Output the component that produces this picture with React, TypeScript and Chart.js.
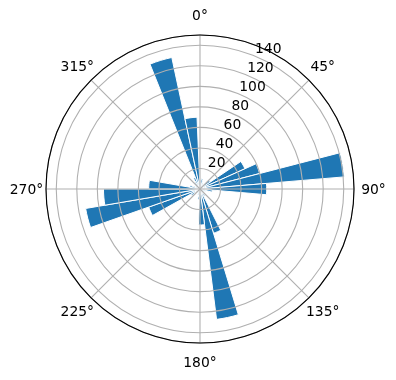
import React, { useEffect, useRef } from "react";
import { Chart, registerables } from "chart.js";

Chart.register(...registerables);

// Angular histogram: 37 equal bins, clockwise from north, first bin starting at -2.37°
const binStartDeg = -2.37;
const binCenters = [
  2.5, 12.2, 21.9, 31.7, 41.4, 51.1, 60.9, 70.6, 80.3, 90.1,
  99.8, 109.5, 119.3, 129.0, 138.7, 148.4, 158.2, 167.9, 177.6, 187.4,
  197.1, 206.8, 216.6, 226.3, 236.0, 245.8, 255.5, 265.2, 274.9, 284.7,
  294.4, 304.1, 313.9, 323.6, 333.3, 343.1, 352.8,
];
const counts = [
  8, 10, 6, 5, 4, 12, 48, 60, 141, 65,
  12, 6, 4, 3, 5, 8, 45, 128, 35, 10,
  6, 4, 3, 5, 10, 53, 113, 94, 50, 10,
  6, 4, 5, 8, 12, 131, 70,
];
const rTicks = [20, 40, 60, 80, 100, 120, 140];
const rMax = 150;
const angleTickDegs = [0, 45, 90, 135, 180, 225, 270, 315];
const angleTickLabels = ["0°", "45°", "90°", "135°", "180°", "225°", "270°", "315°"];

const FONT = '13.89px "DejaVu Sans"';

export default function App() {
  const ref = useRef<HTMLCanvasElement | null>(null);

  useEffect(() => {
    if (!ref.current) return;
    const decor = {
      id: "polarDecor",
      afterDatasetsDraw(chart: any) {
        const s = chart.scales.r;
        const ctx = chart.ctx;
        const R = s.drawingArea;
        ctx.save();
        ctx.strokeStyle = "#b0b0b0";
        ctx.lineWidth = 1.1;
        angleTickDegs.forEach((d) => {
          const a = (d * Math.PI) / 180;
          ctx.beginPath();
          ctx.moveTo(s.xCenter, s.yCenter);
          ctx.lineTo(s.xCenter + R * Math.sin(a), s.yCenter - R * Math.cos(a));
          ctx.stroke();
        });
        ctx.restore();
      },
      afterDraw(chart: any) {
        const s = chart.scales.r;
        const ctx = chart.ctx;
        const R = s.drawingArea;
        ctx.save();
        // outer spine
        ctx.strokeStyle = "#000";
        ctx.lineWidth = 1.1;
        ctx.beginPath();
        ctx.arc(s.xCenter, s.yCenter, R, 0, Math.PI * 2);
        ctx.stroke();
        ctx.fillStyle = "#000";
        ctx.font = FONT;
        // angle labels
        ctx.textAlign = "center";
        ctx.textBaseline = "middle";
        const labR = R + 19.5;
        angleTickDegs.forEach((d, i) => {
          const a = (d * Math.PI) / 180;
          ctx.fillText(
            angleTickLabels[i],
            s.xCenter + labR * Math.sin(a),
            s.yCenter - labR * Math.cos(a) + 1
          );
        });
        // radial tick labels at 22.5°
        ctx.textAlign = "left";
        ctx.textBaseline = "bottom";
        const la = (22.5 * Math.PI) / 180;
        rTicks.forEach((v) => {
          const d = s.getDistanceFromCenterForValue(v);
          ctx.fillText(String(v), s.xCenter + d * Math.sin(la), s.yCenter - d * Math.cos(la));
        });
        ctx.restore();
      },
    };

    const chart = new Chart(ref.current, {
      type: "polarArea",
      data: {
        labels: binCenters.map((c) => `${c}°`),
        datasets: [
          {
            data: counts,
            backgroundColor: "#1f77b4",
            borderColor: "#ffffff",
            borderWidth: 1,
          },
        ],
      },
      options: {
        animation: false,
        responsive: true,
        maintainAspectRatio: false,
        layout: { padding: { left: 46, right: 42, top: 35, bottom: 37 } },
        plugins: { legend: { display: false }, tooltip: { enabled: false } },
        scales: {
          r: {
            min: 0,
            max: rMax,
            startAngle: binStartDeg,
            ticks: { display: false, stepSize: 20 },
            grid: { z: 1, color: "#b0b0b0", lineWidth: 1.1, circular: true },
            angleLines: { display: false },
            pointLabels: { display: false },
          },
        },
      },
      plugins: [decor],
    } as any);
    return () => chart.destroy();
  }, []);

  return (
    <div style={{ position: "fixed", left: 0, top: 0, width: 396, height: 380, background: "#fff" }}>
      <canvas ref={ref} />
    </div>
  );
}
